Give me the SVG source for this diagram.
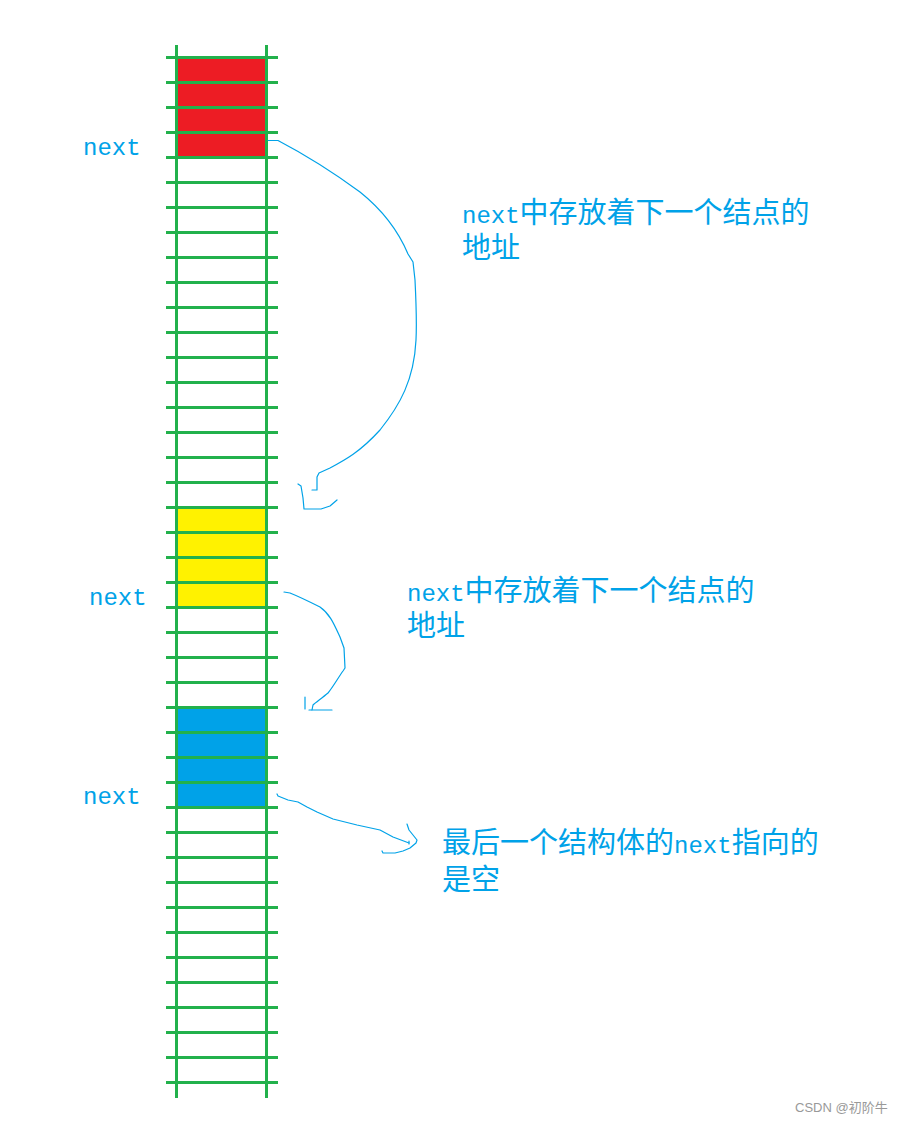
<svg xmlns="http://www.w3.org/2000/svg" width="910" height="1123" viewBox="0 0 910 1123">
<style>
.grid line{stroke:#22B14C;stroke-width:3}
.conn path{fill:none;stroke:#00A2E8;stroke-width:1.2;stroke-linejoin:round;stroke-linecap:round}
.lbl{fill:#00A2E8;font-family:"Liberation Mono",monospace;font-size:24px}
.cjk{fill:#00A2E8;font-family:"Noto Sans CJK SC","Noto Sans CJK JP",sans-serif;font-size:29px}
.mono{font-family:"Liberation Mono",monospace;font-size:24px}
.wm{fill:#999999;font-family:"Liberation Sans","Noto Sans CJK SC",sans-serif;font-size:13px}
</style>
<rect width="910" height="1123" fill="#ffffff"/>
<g id="block-red"><rect x="176" y="57" width="90" height="100" fill="#ED1C24"/></g>
<g id="block-yellow"><rect x="176" y="507" width="90" height="100" fill="#FFF200"/></g>
<g id="block-blue"><rect x="176" y="707" width="90" height="100" fill="#00A2E8"/></g>
<g id="memory-column" class="grid">
<line x1="176.5" y1="45" x2="176.5" y2="1098"/>
<line x1="266.5" y1="45" x2="266.5" y2="1098"/>
<line x1="166" y1="57.5" x2="278" y2="57.5"/>
<line x1="166" y1="82.5" x2="278" y2="82.5"/>
<line x1="166" y1="107.5" x2="278" y2="107.5"/>
<line x1="166" y1="132.5" x2="278" y2="132.5"/>
<line x1="166" y1="157.5" x2="278" y2="157.5"/>
<line x1="166" y1="182.5" x2="278" y2="182.5"/>
<line x1="166" y1="207.5" x2="278" y2="207.5"/>
<line x1="166" y1="232.5" x2="278" y2="232.5"/>
<line x1="166" y1="257.5" x2="278" y2="257.5"/>
<line x1="166" y1="282.5" x2="278" y2="282.5"/>
<line x1="166" y1="307.5" x2="278" y2="307.5"/>
<line x1="166" y1="332.5" x2="278" y2="332.5"/>
<line x1="166" y1="357.5" x2="278" y2="357.5"/>
<line x1="166" y1="382.5" x2="278" y2="382.5"/>
<line x1="166" y1="407.5" x2="278" y2="407.5"/>
<line x1="166" y1="432.5" x2="278" y2="432.5"/>
<line x1="166" y1="457.5" x2="278" y2="457.5"/>
<line x1="166" y1="482.5" x2="278" y2="482.5"/>
<line x1="166" y1="507.5" x2="278" y2="507.5"/>
<line x1="166" y1="532.5" x2="278" y2="532.5"/>
<line x1="166" y1="557.5" x2="278" y2="557.5"/>
<line x1="166" y1="582.5" x2="278" y2="582.5"/>
<line x1="166" y1="607.5" x2="278" y2="607.5"/>
<line x1="166" y1="632.5" x2="278" y2="632.5"/>
<line x1="166" y1="657.5" x2="278" y2="657.5"/>
<line x1="166" y1="682.5" x2="278" y2="682.5"/>
<line x1="166" y1="707.5" x2="278" y2="707.5"/>
<line x1="166" y1="732.5" x2="278" y2="732.5"/>
<line x1="166" y1="757.5" x2="278" y2="757.5"/>
<line x1="166" y1="782.5" x2="278" y2="782.5"/>
<line x1="166" y1="807.5" x2="278" y2="807.5"/>
<line x1="166" y1="832.5" x2="278" y2="832.5"/>
<line x1="166" y1="857.5" x2="278" y2="857.5"/>
<line x1="166" y1="882.5" x2="278" y2="882.5"/>
<line x1="166" y1="907.5" x2="278" y2="907.5"/>
<line x1="166" y1="932.5" x2="278" y2="932.5"/>
<line x1="166" y1="957.5" x2="278" y2="957.5"/>
<line x1="166" y1="982.5" x2="278" y2="982.5"/>
<line x1="166" y1="1007.5" x2="278" y2="1007.5"/>
<line x1="166" y1="1032.5" x2="278" y2="1032.5"/>
<line x1="166" y1="1057.5" x2="278" y2="1057.5"/>
<line x1="166" y1="1082.5" x2="278" y2="1082.5"/>
</g>
<g id="connectors" class="conn">
<path d="M268 140.5 L278 140.5 C300 152 330 170 360 192 C385 212 400 235 408 254 L413 262 L415 280 C416 300 417 320 416 340 C414 380 400 405 380 430 C360 452 345 460 330 468 L319 473 L317 477 L317 490 L312 490"/>
<path d="M298 484 L301 486 L303 498 L304 509 L321 509 L330 506 L337 500"/>
<path d="M284 592 L290 593 C300 597 312 603 320 607 C330 614 334 624 340 637 L344 648 L345 668 L343 671 C338 678 333 687 328 693 C322 698 315 703 313 705 L312 710"/>
<path d="M305 697 L305 709 M309 710 L332 710"/>
<path d="M277 794 L278 796 L288 800 L298 802 L307 807 L317 812 L333 819 L357 825 L380 830 L393 837 L409 843"/>
<path d="M407 824 L409 830 L413 835 L417 840 L416 843 L410 848 L403 851 L395 853 L383 853 L382 851"/>
<path d="M409 841 L409 844"/>
</g>
<g id="label-next-1"><text class="lbl" x="83" y="155">next</text></g>
<g id="label-next-2"><text class="lbl" x="89" y="605">next</text></g>
<g id="label-next-3"><text class="lbl" x="83" y="804">next</text></g>
<g id="note-1">
<text class="cjk" x="462" y="223"><tspan class="mono">next</tspan>中存放着下一个结点的<tspan x="462" y="258">地址</tspan></text>
</g>
<g id="note-2">
<text class="cjk" x="407" y="601"><tspan class="mono">next</tspan>中存放着下一个结点的<tspan x="407" y="636">地址</tspan></text>
</g>
<g id="note-3">
<text class="cjk" x="442" y="853">最后一个结构体的<tspan class="mono">next</tspan>指向的<tspan x="442" y="890">是空</tspan></text>
</g>
<text class="wm" x="795" y="1112">CSDN @初阶牛</text>
</svg>
